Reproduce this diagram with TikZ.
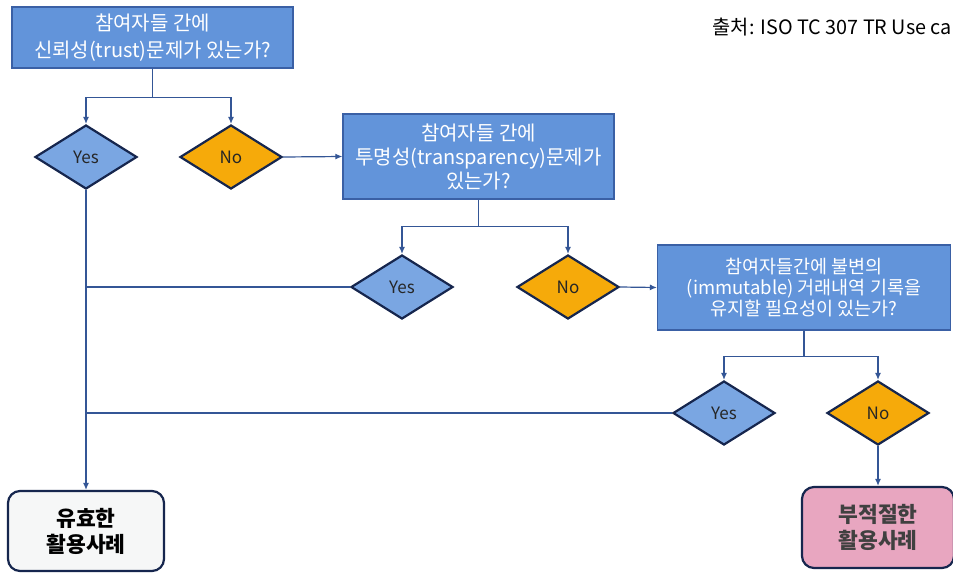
\documentclass[tikz,border=0pt]{standalone}
\usepackage{fontspec}
\setmainfont{Noto Sans CJK KR}
\usetikzlibrary{shapes.geometric,arrows.meta}
\definecolor{boxblue}{RGB}{98,148,218}
\definecolor{boxedge}{RGB}{58,96,165}
\definecolor{dyes}{RGB}{122,166,226}
\definecolor{dno}{RGB}{246,170,10}
\definecolor{dedge}{RGB}{22,38,78}
\definecolor{linec}{RGB}{52,86,150}
\definecolor{pinkc}{RGB}{232,166,192}
\definecolor{whitec}{RGB}{246,247,247}
\tikzset{
  qbox/.style={draw=boxedge, line width=1.2pt, fill=boxblue, text=white, align=center,
    inner sep=0pt, font=\fontsize{20}{27}\selectfont},
  dia/.style={diamond, draw=dedge, line width=2.2pt, inner sep=0pt, minimum width=102pt,
    minimum height=64pt, font=\fontsize{17}{18}\selectfont},
  dyesst/.style={dia, fill=dyes, text=black!85},
  dnost/.style={dia, fill=dno, text=black!85},
  endbox/.style={draw=dedge, line width=2.2pt, rounded corners=12pt, align=center,
    inner sep=0pt, font=\fontsize{21.5}{26}\selectfont\bfseries},
  conn/.style={draw=linec, line width=1.2pt},
  arr/.style={conn, -{Latex[length=7pt,width=6pt]}}
}
\begin{document}
\begin{tikzpicture}[x=1pt,y=-1pt]
\useasboundingbox (0,0) rectangle (953,576);
\fill[white] (0,0) rectangle (953,576);

\node[qbox, minimum width=281pt, minimum height=61pt] (b1) at (152.5,37.5)
  {참여자들 간에\\신뢰성(trust)문제가 있는가?};
\node[dyesst] (y1) at (86,157) {Yes};
\node[dnost] (n1) at (231,157) {No};

\node[qbox, minimum width=271pt, minimum height=85pt, font=\fontsize{20}{24}\selectfont] (b2) at (478.5,156.5)
  {참여자들 간에\\투명성(transparency)문제가\\있는가?};
\node[dyesst] (y2) at (402,287) {Yes};
\node[dnost] (n2) at (568,287) {No};

\node[qbox, minimum width=293pt, minimum height=85pt, font=\fontsize{18.5}{21}\selectfont] (b3) at (804,287.5)
  {참여자들간에 불변의\\(immutable) 거래내역 기록을\\유지할 필요성이 있는가?};
\node[dyesst] (y3) at (724,413) {Yes};
\node[dnost] (n3) at (878,413) {No};

\node[endbox, fill=whitec, text=black, minimum width=156pt, minimum height=80pt] (e1) at (86,531)
  {유효한\\활용사례};
\node[endbox, fill=pinkc, text=black!75, minimum width=152pt, minimum height=81pt] (e2) at (878,527.5)
  {부적절한\\활용사례};

\node[anchor=east, text=black, inner sep=0pt, font=\fontsize{19.8}{22}\selectfont] (src) at (952,27)
  {출처: ISO TC 307 TR Use ca};

% connectors
\path (b1.south) ++(0,29) coordinate (j1);
\draw[conn] (b1.south) -- (j1);
\draw[arr] (j1) -| (y1.north);
\draw[arr] (j1) -| (n1.north);
\draw[arr] (n1.east) -- (b2.west);

\path (b2.south) ++(0,27) coordinate (j2);
\draw[conn] (b2.south) -- (j2);
\draw[arr] (j2) -| (y2.north);
\draw[arr] (j2) -| (n2.north);
\draw[arr] (n2.east) -- (b3.west);

\path (b3.south) ++(0,26) coordinate (j3);
\draw[conn] (b3.south) -- (j3);
\draw[arr] (j3) -| (y3.north);
\draw[arr] (j3) -| (n3.north);
\draw[arr] (n3.south) -- (e2.north);

\draw[arr] (y1.south) -- (e1.north);
\draw[conn] (y2.west) -- (y2.west -| y1.south);
\draw[conn] (y3.west) -- (y3.west -| y1.south);
\end{tikzpicture}
\end{document}
